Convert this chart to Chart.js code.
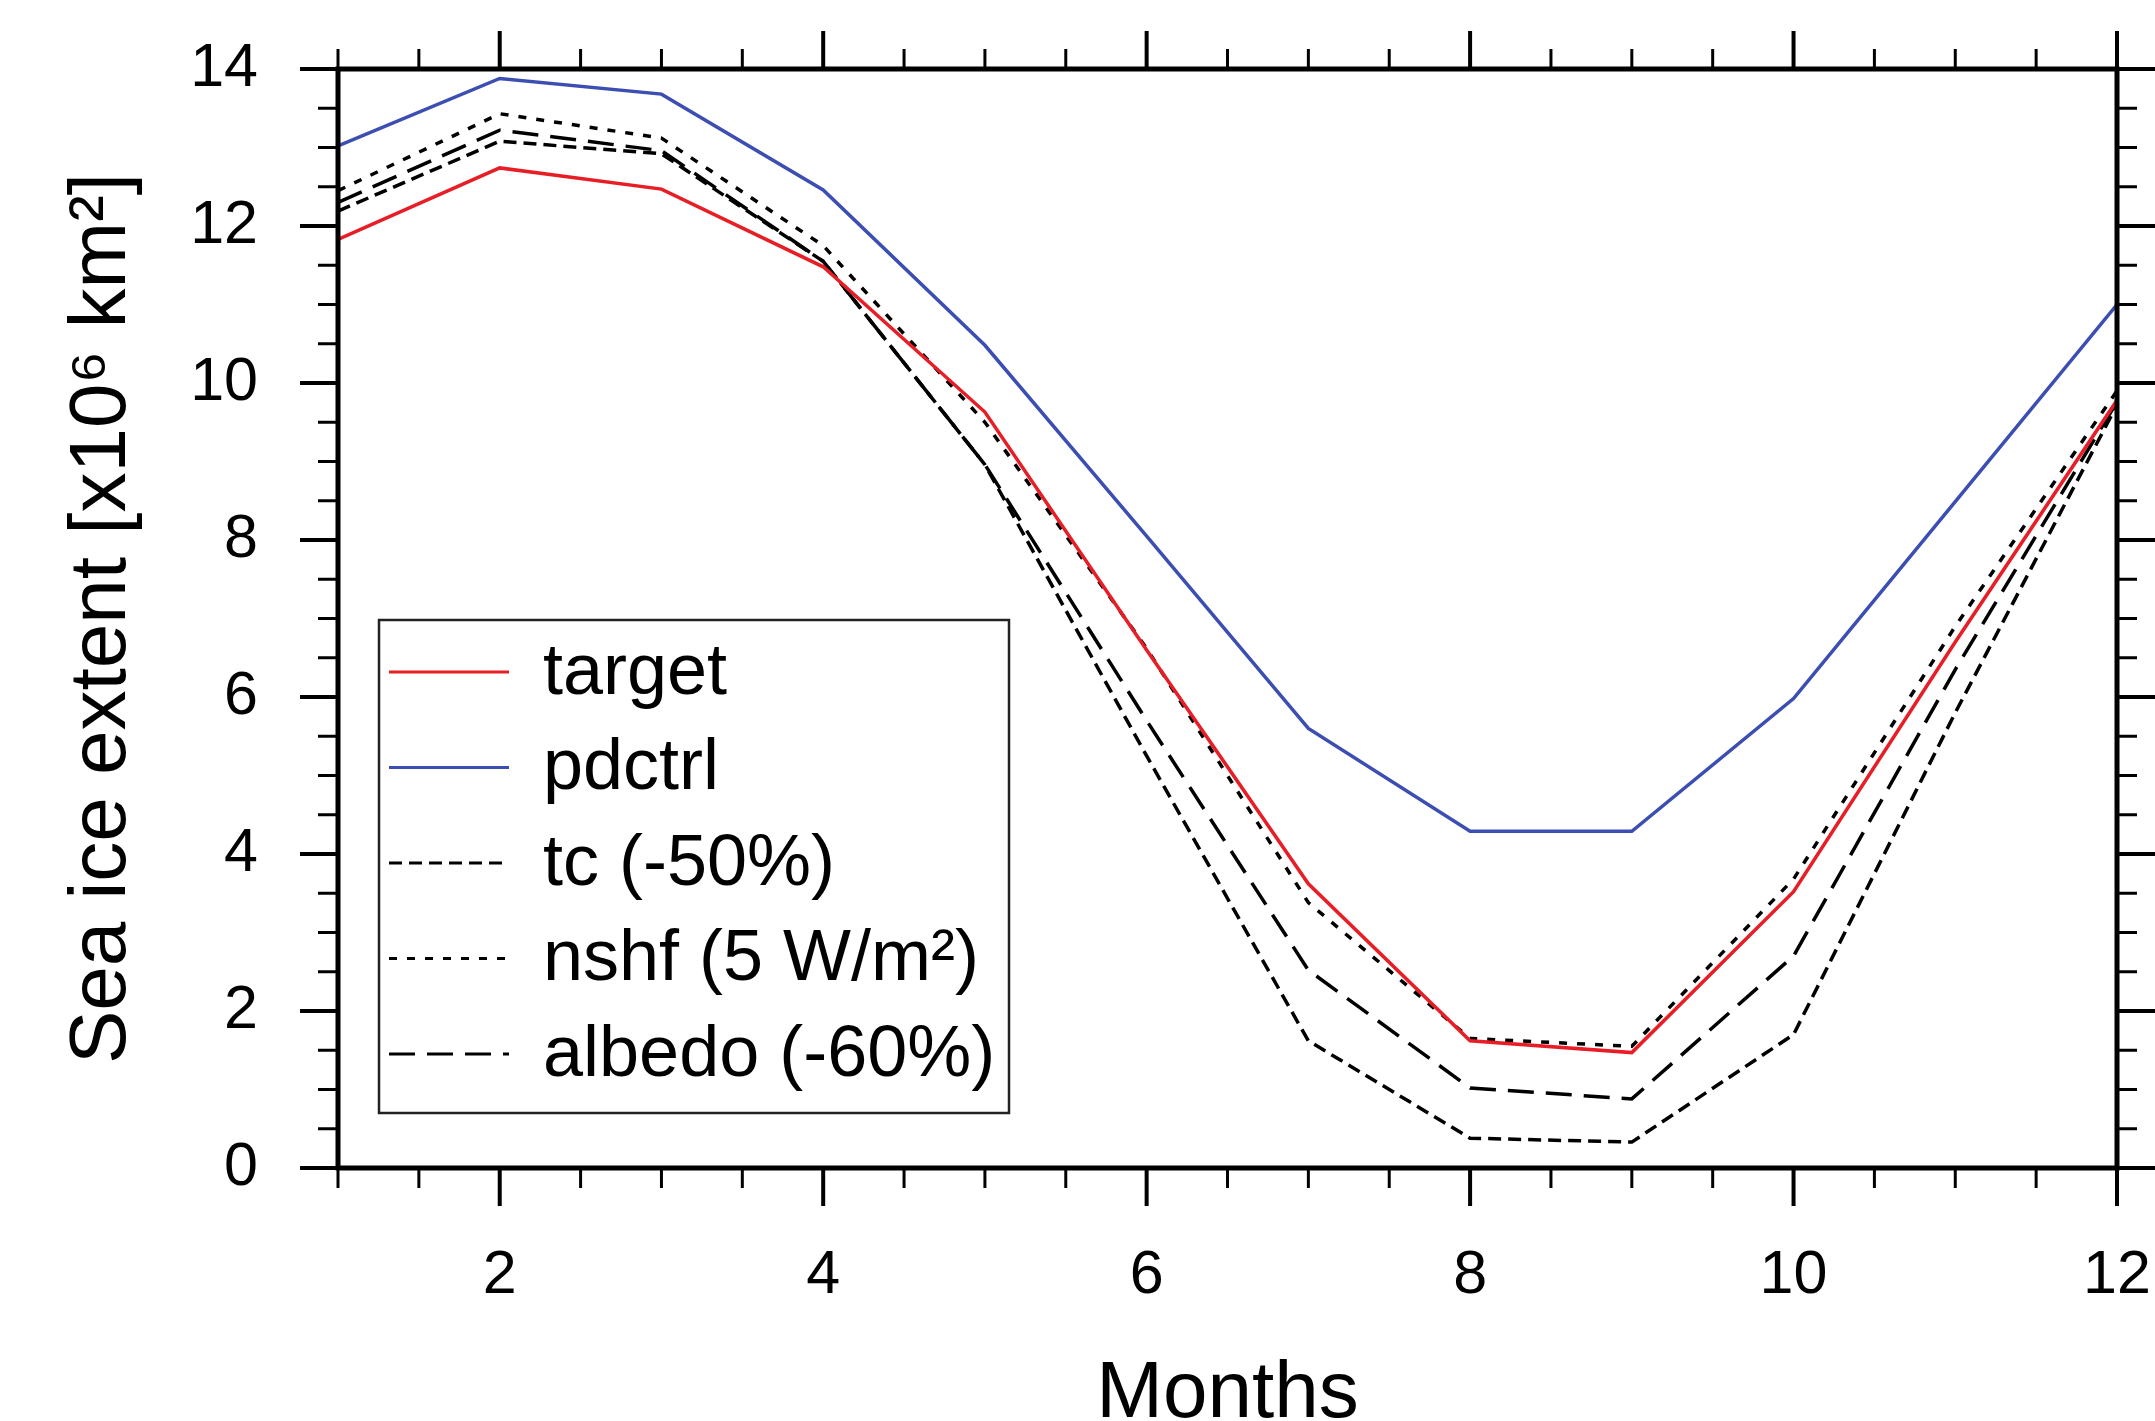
<!DOCTYPE html>
<html>
<head>
<meta charset="utf-8">
<script src="https://cdn.jsdelivr.net/npm/chart.js@4.4.0/dist/chart.umd.min.js"></script>
<style>
  html, body { margin: 0; padding: 0; background: #fff; }
</style>
</head>
<body>
<canvas id="chart-0" width="2155" height="1421"></canvas>
<script>
  var months = [1, 2, 3, 4, 5, 6, 7, 8, 9, 10, 11, 12];
  var target = [11.83, 12.74, 12.47, 11.48, 9.63, 6.6, 3.62, 1.62, 1.47, 3.52, 6.7, 9.78];
  var pdctrl = [13.02, 13.88, 13.68, 12.46, 10.48, 8.05, 5.6, 4.29, 4.29, 5.98, 8.49, 11.0];
  var tc = [12.19, 13.08, 12.92, 11.55, 8.96, 5.25, 1.62, 0.38, 0.33, 1.7, 5.8, 9.72];
  var nshf = [12.45, 13.43, 13.12, 11.75, 9.5, 6.62, 3.38, 1.65, 1.55, 3.68, 6.9, 9.9];
  var albedo = [12.3, 13.22, 12.96, 11.55, 8.96, 5.7, 2.52, 1.02, 0.88, 2.7, 6.35, 9.76];
  var xTicks = [2, 4, 6, 8, 10, 12];
  var yTicks = [0, 2, 4, 6, 8, 10, 12, 14];
  var minorStep = 0.5;

  var FONT = '"Liberation Sans", Arial, Helvetica, sans-serif';

  function points(values) {
    return months.map(function(m, i) { return {x: m, y: values[i]}; });
  }

  function series(label, values, color, dash) {
    return {
      label: label,
      data: points(values),
      borderColor: color,
      borderWidth: 3.5,
      borderDash: dash,
      pointRadius: 0,
      fill: false,
      tension: 0
    };
  }

  function line(ctx, x1, y1, x2, y2) {
    ctx.beginPath();
    ctx.moveTo(x1, y1);
    ctx.lineTo(x2, y2);
    ctx.stroke();
  }

  // scales ask the layout for room for their end labels; the plot box is fixed here
  function noPadding(scale) {
    scale.paddingLeft = 0;
    scale.paddingRight = 0;
    scale.paddingTop = 0;
    scale.paddingBottom = 0;
  }

  // box round the plot, ticks pointing outward on all four sides
  var framePlugin = {
    id: 'frame',
    afterDatasetsDraw: function(chart) {
      var ctx = chart.ctx;
      var a = chart.chartArea;
      var xs = chart.scales.x, ys = chart.scales.y;
      ctx.save();
      ctx.strokeStyle = '#000';
      ctx.setLineDash([]);
      var v, p, major, len;
      for (v = xs.min; v <= xs.max + 1e-9; v += minorStep) {
        p = xs.getPixelForValue(v);
        major = xTicks.indexOf(v) >= 0;
        len = major ? 38 : 20;
        ctx.lineWidth = major ? 4 : 3;
        line(ctx, p, a.bottom, p, a.bottom + len);
        line(ctx, p, a.top, p, a.top - len);
      }
      for (v = ys.min; v <= ys.max + 1e-9; v += minorStep) {
        p = ys.getPixelForValue(v);
        major = yTicks.indexOf(v) >= 0;
        len = major ? 38 : 20;
        ctx.lineWidth = major ? 4 : 3;
        line(ctx, a.left, p, a.left - len, p);
        line(ctx, a.right, p, a.right + len, p);
      }
      ctx.lineWidth = 5;
      ctx.strokeRect(a.left, a.top, a.right - a.left, a.bottom - a.top);
      ctx.restore();
    }
  };

  var legendPlugin = {
    id: 'boxLegend',
    afterDraw: function(chart) {
      var ctx = chart.ctx;
      var box = {x: 379, y: 620, w: 630, h: 493};
      ctx.save();
      ctx.fillStyle = '#fff';
      ctx.fillRect(box.x, box.y, box.w, box.h);
      ctx.strokeStyle = '#222';
      ctx.lineWidth = 2.5;
      ctx.strokeRect(box.x, box.y, box.w, box.h);
      ctx.font = '72px ' + FONT;
      ctx.textBaseline = 'middle';
      ctx.fillStyle = '#000';
      chart.data.datasets.forEach(function(ds, i) {
        var y = 672 + i * 95.5;
        ctx.strokeStyle = ds.borderColor;
        ctx.lineWidth = 3;
        ctx.setLineDash(ds.borderDash || []);
        line(ctx, 389, y, 509, y);
        ctx.setLineDash([]);
        ctx.fillText(ds.label, 543, y + 2);
      });
      ctx.restore();
    }
  };

  var data = {
    datasets: [
      series('target', target, 'rgb(232,30,38)', []),
      series('pdctrl', pdctrl, 'rgb(60,78,178)', []),
      series('tc (-50%)', tc, '#000', [13, 7]),
      series('nshf (5 W/m\u00b2)', nshf, '#000', [8, 10]),
      series('albedo (-60%)', albedo, '#000', [26, 12])
    ]
  };

  var options = {
    responsive: false,
    animation: false,
    devicePixelRatio: 1,
    layout: { autoPadding: false, padding: { top: 69, right: 38, left: 0, bottom: 0 } },
    plugins: { legend: { display: false }, tooltip: { enabled: false } },
    scales: {
      x: {
        type: 'linear',
        min: 1,
        max: 12,
        grid: { display: false, drawTicks: false },
        border: { display: false },
        afterBuildTicks: function(scale) {
          scale.ticks = xTicks.map(function(v) { return {value: v}; });
        },
        afterFit: function(scale) { scale.height = 253; noPadding(scale); },
        ticks: { color: '#000', font: { family: FONT, size: 61 }, padding: 72, maxRotation: 0 },
        title: {
          display: true,
          text: 'Months',
          color: '#000',
          font: { family: FONT, size: 80, lineHeight: 0.8 },
          padding: { top: 0, bottom: -6 }
        }
      },
      y: {
        type: 'linear',
        min: 0,
        max: 14,
        grid: { display: false, drawTicks: false },
        border: { display: false },
        afterBuildTicks: function(scale) {
          scale.ticks = yTicks.map(function(v) { return {value: v}; });
        },
        afterFit: function(scale) { scale.width = 338; noPadding(scale); },
        ticks: { color: '#000', font: { family: FONT, size: 61 }, padding: 80 },
        title: {
          display: true,
          text: 'Sea ice extent [x10\u2076 km\u00b2]',
          color: '#000',
          font: { family: FONT, size: 80, lineHeight: 0.8 },
          padding: { top: 71, bottom: 0 }
        }
      }
    }
  };

  var chart = new Chart('chart-0', {
    type: 'line',
    data: data,
    options: options,
    plugins: [framePlugin, legendPlugin]
  });
</script>
</body>
</html>
